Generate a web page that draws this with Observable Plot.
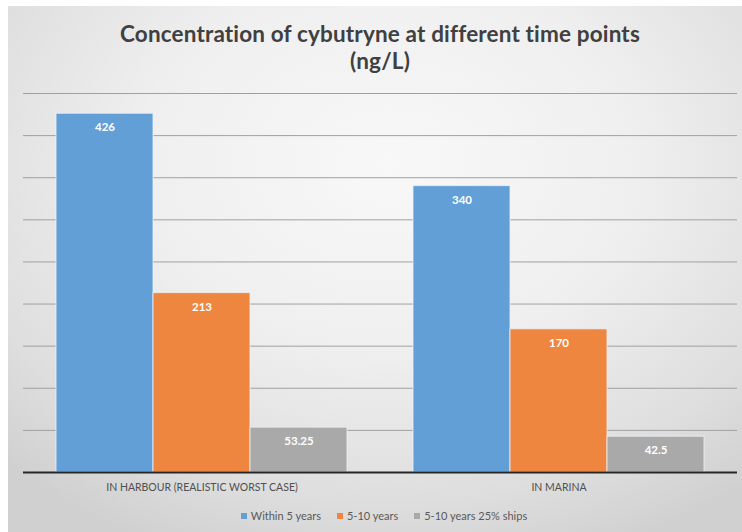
<!DOCTYPE html>
<html>
<head>
<meta charset="utf-8">
<script src="https://cdn.jsdelivr.net/npm/d3@7"></script>
<script src="https://cdn.jsdelivr.net/npm/@observablehq/plot@0.6"></script>
<style>
  html, body { margin: 0; padding: 0; background: #ffffff; }
  #wrap { position: relative; width: 742px; height: 532px; overflow: hidden; font-family: Lato, "Open Sans", sans-serif; }
  #card { position: absolute; left: 8px; top: 6px; width: 734px; height: 526px;
    background: radial-gradient(ellipse 75% 80% at 52% 30%, #f8f8f8 0%, #efefef 45%, #dedede 80%, #d0d0d0 100%); }
  #title { position: absolute; left: 9px; top: 20px; width: 742px; text-align: center; font-weight: bold;
    font-size: 22.5px; line-height: 27px; color: #404040; white-space: nowrap; }
  #chart { position: absolute; left: 0; top: 88px; }
  #legend { position: absolute; left: 13px; top: 508px; width: 742px; display: flex; justify-content: center;
    gap: 16px; font-size: 11px; color: #595959; line-height: 16px; }
  #legend .item { display: flex; align-items: center; gap: 4px; }
  #legend .sw { width: 6px; height: 6px; display: inline-block; }
</style>
</head>
<body>
<div id="wrap">
  <div id="card"></div>
  <div id="title"><span id="t1">Concentration of cybutryne at different time points</span><br><span id="t2">(ng/L)</span></div>
  <div id="chart"></div>
  <div id="legend"></div>
</div>
<script>
const categories = ["IN HARBOUR (REALISTIC WORST CASE)", "IN MARINA"];
const seriesNames = ["Within 5 years", "5-10 years", "5-10 years 25% ships"];
const within5Years = [426, 340];
const years5to10 = [213, 170];
const years5to10Ships25 = [53.25, 42.5];
const gridTicks = [50, 100, 150, 200, 250, 300, 350, 400, 450];
const colors = ["#629fd6", "#ee8640", "#a9a9a9"];

const seriesValues = [within5Years, years5to10, years5to10Ships25];
const data = categories.flatMap((c, i) =>
  seriesNames.map((s, j) => ({category: c, series: s, value: seriesValues[j][i]})));

// fit title width to reference
(function () {
  const ctx = document.createElement("canvas").getContext("2d");
  ctx.font = "bold 22.5px Lato";
  const t = document.getElementById("t1").textContent;
  const w = ctx.measureText(t).width;
  const ls = (520 - w) / (t.length - 1);
  document.getElementById("title").style.letterSpacing = ls.toFixed(2) + "px";
})();

const chart = Plot.plot({
  width: 742,
  height: 410,
  marginLeft: 23,
  marginRight: 5,
  marginTop: 5,
  marginBottom: 26,
  style: {background: "transparent", fontFamily: "Lato, sans-serif", fontSize: "10.5px", color: "#505050"},
  fx: {domain: categories, paddingInner: 0, paddingOuter: 0, label: null, axis: "bottom", tickSize: 0, tickPadding: 11},
  x: {domain: seriesNames, paddingInner: 0, paddingOuter: 0.335, axis: null},
  y: {domain: [0, 450], axis: null},
  color: {domain: seriesNames, range: colors},
  marks: [
    Plot.ruleY(gridTicks, {stroke: "#a0a0a0", strokeWidth: 1}),
    Plot.barY(data, {fx: "category", x: "series", y: "value", fill: "series", stroke: "#eef3f8", strokeWidth: 1, strokeOpacity: 0.8}),
    Plot.text(data, {fx: "category", x: "series", y: "value", text: d => String(d.value), dy: 14,
      fill: "white", fontWeight: "bold", fontSize: 11.5}),
    Plot.ruleY([0], {stroke: "#262626", strokeWidth: 2})
  ]
});
document.getElementById("chart").appendChild(chart);

const legend = document.getElementById("legend");
seriesNames.forEach((s, i) => {
  const item = document.createElement("span");
  item.className = "item";
  const sw = document.createElement("span");
  sw.className = "sw";
  sw.style.background = colors[i];
  const lab = document.createElement("span");
  lab.textContent = s;
  item.appendChild(sw);
  item.appendChild(lab);
  legend.appendChild(item);
});
</script>
</body>
</html>
